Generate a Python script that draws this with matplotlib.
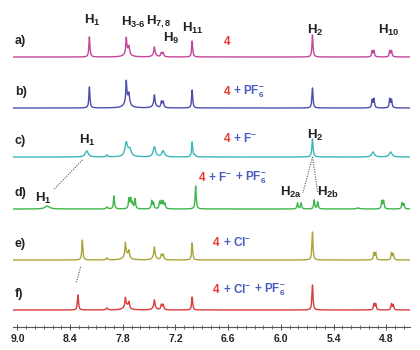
import numpy as np
import matplotlib
matplotlib.use("Agg")
import matplotlib.pyplot as plt
from matplotlib.offsetbox import TextArea, HPacker, AnnotationBbox

plt.rcParams['font.family'] = ['Liberation Sans', 'DejaVu Sans']
plt.rcParams['mathtext.fontset'] = 'custom'
plt.rcParams['mathtext.rm'] = 'Liberation Sans'
plt.rcParams['mathtext.bf'] = 'Liberation Sans:bold'
plt.rcParams['mathtext.it'] = 'Liberation Sans:italic'

# ---- data (ppm, peak height, half width) ----
row_names = ['a)', 'b)', 'c)', 'd)', 'e)', 'f)']
row_colors = ['#c2469c', '#4b4dab', '#3bb7b8', '#3fb54c', '#a9a53a', '#d93b3d']
row_offsets = [270, 219, 170, 118, 67, 17]

pk_a = [8.18, 7.76, 7.75, 7.73, 7.44, 7.44, 7.36, 7.34, 7.01, 5.64, 4.96, 4.94, 4.76, 4.74]
ht_a = [20, 14, 6, 7, 6, 4, 4, 4, 16, 22, 6, 6, 6, 6]
wd_a = [0.007, 0.006, 0.03, 0.008, 0.006, 0.02, 0.008, 0.008, 0.007, 0.007, 0.007, 0.007, 0.007, 0.007]

pk_b = [8.18, 7.76, 7.75, 7.73, 7.44, 7.44, 7.36, 7.34, 7.01, 5.64, 4.96, 4.94, 4.76, 4.74]
ht_b = [21, 19, 9, 9, 8, 5, 6, 6, 18, 20, 8, 9, 9, 8]
wd_b = [0.007, 0.006, 0.03, 0.008, 0.006, 0.02, 0.008, 0.008, 0.007, 0.007, 0.007, 0.007, 0.007, 0.007]

pk_c = [8.21, 7.98, 7.76, 7.72, 7.44, 7.34, 7.01, 6.98, 5.64, 4.95, 4.75]
ht_c = [6, 2, 14, 7, 10, 6, 15, 2, 18, 5, 5]
wd_c = [0.02, 0.01, 0.018, 0.02, 0.016, 0.018, 0.007, 0.01, 0.008, 0.018, 0.018]

pk_d = [8.66, 7.98, 7.90, 7.73, 7.71, 7.69, 7.66, 7.47, 7.45, 7.38, 7.36, 7.34, 7.32,
        6.97, 5.81, 5.77, 5.62, 5.58, 5.12, 4.85, 4.83, 4.62, 4.60]
ht_d = [3, 2, 13, 10, 10, 6, 10, 8, 6, 7, 7, 7, 5, 23, 6, 6, 9, 7, 1, 8, 8, 6, 5]
wd_d = [0.03, 0.01, 0.007, 0.007, 0.007, 0.007, 0.007, 0.007, 0.007, 0.007, 0.007, 0.007,
        0.007, 0.007, 0.007, 0.007, 0.007, 0.007, 0.02, 0.007, 0.007, 0.007, 0.007]

pk_e = [8.26, 7.98, 7.77, 7.76, 7.73, 7.44, 7.44, 7.36, 7.34, 7.01, 5.64, 4.94, 4.92, 4.74, 4.72]
ht_e = [20, 2, 12, 6, 7, 8, 5, 5, 5, 17, 28, 7, 7, 7, 6]
wd_e = [0.007, 0.01, 0.006, 0.03, 0.008, 0.006, 0.02, 0.008, 0.008, 0.007, 0.007, 0.007, 0.007, 0.007, 0.007]

pk_f = [8.31, 7.98, 7.77, 7.76, 7.73, 7.44, 7.44, 7.36, 7.34, 7.01, 5.64, 4.94, 4.92, 4.74, 4.72]
ht_f = [15, 2, 8, 5, 6, 6, 4, 5, 5, 13, 25, 6, 6, 6, 5]
wd_f = [0.007, 0.01, 0.006, 0.03, 0.008, 0.006, 0.02, 0.008, 0.008, 0.007, 0.007, 0.007, 0.007, 0.007, 0.007]

peaks = [pk_a, pk_b, pk_c, pk_d, pk_e, pk_f]
heights = [ht_a, ht_b, ht_c, ht_d, ht_e, ht_f]
widths = [wd_a, wd_b, wd_c, wd_d, wd_e, wd_f]

# anion labels per row: (text, colour key)
anions = [
    [('4', 'r')],
    [('4', 'r'), ('+ PF$_\\mathbf{6}^\\mathbf{-}$', 'b')],
    [('4', 'r'), ('+ F$^\\mathbf{-}$', 'b')],
    [('4', 'r'), ('+ F$^\\mathbf{-}$', 'b'), ('+ PF$_\\mathbf{6}^\\mathbf{-}$', 'b')],
    [('4', 'r'), ('+ Cl$^\\mathbf{-}$', 'b')],
    [('4', 'r'), ('+ Cl$^\\mathbf{-}$', 'b'), ('+ PF$_\\mathbf{6}^\\mathbf{-}$', 'b')],
]
anion_pos = [(6.65, 285), (6.65, 235), (6.65, 189), (6.93, 149), (6.77, 85), (6.77, 37)]

proton_labels = ['1', '3-6', '7,8', '9', '11', '2', '10', '1', '2', '1', '2a', '2b']
proton_pos = [(8.15, 307), (7.68, 305), (7.39, 305), (7.25, 289), (7.00, 299), (5.61, 297),
              (4.77, 297), (8.20, 187), (5.61, 192), (8.70, 129), (5.89, 135), (5.46, 135)]

ppm_grid = np.linspace(4.5, 9.1, 6000)

fig = plt.figure(figsize=(4.2, 3.5), dpi=100)
ax = fig.add_axes([13 / 420, 1 - 327 / 350, 397 / 420, 327 / 350])

for i in range(6):
    spec = np.zeros_like(ppm_grid)
    for p, h, w in zip(peaks[i], heights[i], widths[i]):
        spec += h * w ** 2 / ((ppm_grid - p) ** 2 + w ** 2)
    ax.plot(ppm_grid, spec + row_offsets[i], color=row_colors[i], lw=1.0)
    ax.text(9.03, row_offsets[i] + 16, row_names[i], fontsize=9, fontweight='bold',
            ha='left', va='center', color='#222222')

    parts = []
    for txt, c in anions[i]:
        col = '#e63a2e' if c == 'r' else '#4a5cc0'
        parts.append(TextArea(txt, textprops=dict(color=col, fontsize=8.5, fontweight='bold')))
    box = HPacker(children=parts, align='baseline', pad=0, sep=2)
    ab = AnnotationBbox(box, anion_pos[i], xycoords='data', box_alignment=(0, 0.5),
                        frameon=False, pad=0)
    ax.add_artist(ab)

for lab, (x, y) in zip(proton_labels, proton_pos):
    ax.text(x, y, 'H$_\\mathbf{' + lab.replace('-', '\u2010') + '}$', fontsize=9.5,
            fontweight='bold', ha='center', va='center', color='#222222')

# dotted guide lines
dot = dict(color='#555555', lw=0.8, ls=(0, (1, 1.2)))
ax.plot([8.26, 8.59], [167, 137], **dot)
ax.plot([8.28, 8.33], [60, 44], **dot)
ax.plot([5.64, 5.75], [170, 134], **dot)
ax.plot([5.64, 5.58], [170, 134], **dot)

ax.set_xlim(9.05, 4.53)
ax.set_ylim(0, 327)
for s in ['top', 'left', 'right']:
    ax.spines[s].set_visible(False)
ax.spines['bottom'].set_color('#555555')
ax.spines['bottom'].set_linewidth(0.8)
ax.set_yticks([])
ax.set_xticks(np.round(np.arange(9.0, 4.5, -0.6), 1))
ax.set_xticks(np.round(np.arange(9.0, 4.5, -0.1), 1), minor=True)
ax.xaxis.set_major_formatter(matplotlib.ticker.FormatStrFormatter('%.1f'))
ax.tick_params(axis='x', which='major', direction='inout', length=4, width=0.7,
               labelsize=7.5, colors='#555555', labelcolor='#222222', pad=3)
ax.tick_params(axis='x', which='minor', direction='inout', length=2.5, width=0.6,
               colors='#555555')
for t in ax.get_xticklabels():
    t.set_fontweight('bold')

fig.savefig('out.png', dpi=100)
